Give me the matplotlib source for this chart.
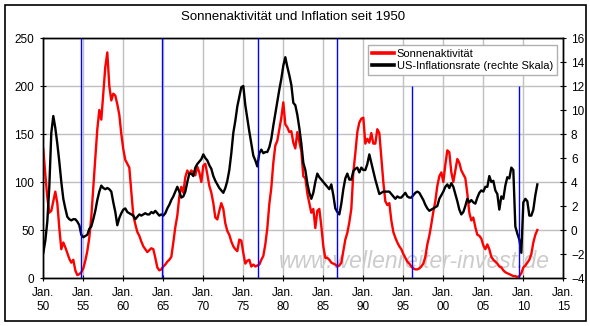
import numpy as np
import matplotlib
matplotlib.use('Agg')
import matplotlib.pyplot as plt
from matplotlib.lines import Line2D
from matplotlib.patches import Rectangle

plt.rcParams['font.family'] = ['Liberation Sans', 'DejaVu Sans']

# quarterly values, Jan. 1950 .. Oct. 2011
start_year = 1950
sunspots = [
    134, 108, 84, 68,  70, 80, 90, 78,  52, 30, 37, 32,  26, 20, 16, 19,
    8, 3, 4, 6,  10, 18, 28, 42,  64, 95, 125, 155,  175, 165, 193, 220,
    235, 200, 185, 192,  190, 181, 170, 150,  134, 123, 119, 115,  90, 65, 56, 48,
    44, 38, 33, 30,  27, 29, 31, 30,  21, 11, 8, 9,  12, 14, 17, 19,
    22, 37, 53, 65,  85, 95, 89, 105,  112, 108, 112, 110,  107, 116, 110, 100,
    117, 119, 108, 96,  89, 78, 63, 61,  70, 78, 72, 57,  49, 45, 38, 33,
    30, 28, 40, 39,  26, 15, 18, 19,  12, 14, 12, 13,  14, 19, 23, 35,
    52, 77, 94, 120,  138, 143, 155, 167,  183, 160, 157, 152,  153, 141, 135, 152,
    142, 132, 106, 104,  88, 78, 68, 72,  52, 70, 72, 54,  33, 21, 21, 19,
    16, 15, 14, 12,  13, 16, 28, 40,  47, 58, 72, 110,  130, 152, 162, 166,
    167, 140, 145, 141,  151, 140, 140, 155,  151, 126, 100, 80,  76, 78, 60, 48,
    42, 37, 33, 30,  25, 21, 17, 15,  12, 10, 9, 9,  10, 12, 15, 22,
    35, 44, 56, 69,  80, 96, 106, 110,  100, 118, 133, 131,  110, 100, 112, 124,
    120, 112, 108, 104,  88, 68, 60, 63,  53, 45, 44, 41,  34, 30, 35, 30,
    22, 19, 17, 15,  12, 11, 8, 6,  5, 4, 3, 2,  2, 1, 2, 5,
    11, 13, 16, 19,  25, 37, 45, 50,
]
inflation = [
    -1.9, -0.9, 0.7, 3.6,  8.1, 9.5, 8.5, 7.2,  5.7, 4.0, 2.6, 1.8,  1.1, 0.9, 0.8, 0.9,
    0.9, 0.7, 0.4, -0.4,  -0.6, -0.5, -0.4, 0.1,  0.3, 0.9, 1.6, 2.5,  3.2, 3.7, 3.5, 3.4,
    3.5, 3.4, 3.2, 2.3,  1.5, 0.4, 1.0, 1.4,  1.7, 1.8, 1.5, 1.4,  1.3, 1.2, 0.9, 1.1,
    1.3, 1.2, 1.3, 1.4,  1.3, 1.3, 1.5, 1.4,  1.6, 1.4, 1.2, 1.3,  1.2, 1.4, 1.8, 2.1,
    2.5, 2.8, 3.2, 3.6,  3.2, 2.7, 2.8, 3.2,  4.0, 4.7, 4.7, 4.5,  5.2, 5.5, 5.7, 5.9,
    6.3, 6.0, 5.8, 5.4,  5.1, 4.5, 4.1, 3.8,  3.5, 3.3, 3.1, 3.5,  4.1, 5.0, 6.4, 8.1,
    9.1, 10.3, 11.1, 11.9,  12.0, 10.4, 9.3, 8.2,  7.2, 6.2, 5.8, 5.3,  6.4, 6.7, 6.4, 6.5,
    6.5, 6.9, 7.6, 8.7,  9.7, 10.7, 11.7, 12.6,  13.7, 14.4, 13.6, 12.9,  12.1, 10.6, 10.4, 9.6,
    8.5, 7.2, 5.6, 5.0,  3.9, 3.1, 2.6, 3.1,  4.0, 4.7, 4.4, 4.2,  4.0, 3.8, 3.6, 3.4,
    3.8, 2.9, 1.8, 1.5,  1.3, 2.2, 3.4, 4.3,  4.7, 4.2, 4.2, 4.9,  5.1, 5.2, 4.8, 5.2,
    5.0, 5.0, 5.5, 6.3,  5.6, 4.9, 4.2, 3.6,  3.0, 3.1, 3.2, 3.2,  3.2, 3.2, 3.0, 2.8,
    2.6, 2.8, 2.7, 2.7,  2.9, 3.1, 2.8, 2.7,  2.7, 2.9, 3.1, 3.2,  3.1, 2.8, 2.5, 2.1,
    1.8, 1.6, 1.7, 1.8,  1.9, 2.0, 2.6, 2.9,  3.2, 3.6, 3.8, 3.5,  3.9, 3.6, 3.0, 2.4,
    1.7, 1.3, 1.5, 2.0,  2.6, 2.3, 2.5, 2.3,  2.2, 2.7, 3.1, 3.3,  3.2, 3.6, 3.6, 4.5,
    4.0, 4.1, 3.3, 3.0,  1.7, 2.8, 2.6, 3.7,  4.4, 4.3, 5.2, 5.0,  0.3, -0.3, -0.8, -1.9,
    2.3, 2.6, 2.4, 1.2,  1.2, 1.7, 2.9, 3.8,
]
# Sonnenfleckenminima (blaue Linien) und ihre Oberkante (linke Skala)
cycle_minima = [1954.75, 1964.8, 1976.875, 1986.67, 1996.1, 2009.5]
line_tops = [250, 250, 250, 250, 200, 200]

year_ticks = list(range(1950, 2016, 5))
year_labels = ['Jan.\n%02d' % (y % 100) for y in year_ticks]

dates = start_year + np.arange(len(sunspots)) / 4.0

fig = plt.figure(figsize=(5.9, 3.26), dpi=100)
ax = fig.add_axes([0.0734, 0.1472, 0.8814, 0.7362])
ax2 = ax.twinx()

ax.plot(dates, sunspots, color='#ff0000', lw=1.7, zorder=3)
ax2.plot(dates, inflation, color='black', lw=1.7, zorder=3)
ax2.vlines(cycle_minima, 0, line_tops, color='#0000ff', lw=1.0, zorder=5,
           transform=ax.transData)

ax.set_xlim(1950, 2015)
ax.set_ylim(0, 250)
ax2.set_ylim(-4, 16)
ax.set_xticks(year_ticks)
ax.set_xticklabels(year_labels)
ax.set_yticks(range(0, 251, 50))
ax2.set_yticks(range(-4, 17, 2))
ax.grid(True, color='#c0c0c0', lw=1.0, zorder=0)
ax.set_axisbelow(True)

ax.tick_params(axis='x', direction='inout', length=5, pad=4, labelsize=8.5)
ax.tick_params(axis='y', direction='inout', length=5, pad=4, labelsize=8.5)
ax2.tick_params(axis='y', direction='inout', length=5, pad=3, labelsize=8.5)
for a in (ax, ax2):
    for s in a.spines.values():
        s.set_color('black')
        s.set_linewidth(1.0)

ax.text(0.714, 0.067, 'www.wellenreiter-invest.de', transform=ax.transAxes,
        ha='center', va='center', fontsize=16.5, style='italic',
        color='#cccccc', zorder=1)

handles = [Line2D([], [], color='#ff0000', lw=2.6),
           Line2D([], [], color='black', lw=2.6)]
ax2.legend(handles, ['Sonnenaktivität', 'US-Inflationsrate (rechte Skala)'],
           loc='upper right', bbox_to_anchor=(0.944, 0.862),
           bbox_transform=fig.transFigure, fontsize=8.0, fancybox=False,
           framealpha=1, edgecolor='#b0b0b0', borderpad=0.35,
           labelspacing=0.2, handlelength=2.0, handletextpad=0.25,
           borderaxespad=0)

fig.text(0.497, 0.948, 'Sonnenaktivität und Inflation seit 1950',
         ha='center', va='center', fontsize=9.5)
fig.patches.append(Rectangle((0.0085, 0.0153), 0.9847, 0.9693,
                             transform=fig.transFigure, fill=False,
                             edgecolor='black', lw=1.2))

fig.savefig('out.png', dpi=100)
